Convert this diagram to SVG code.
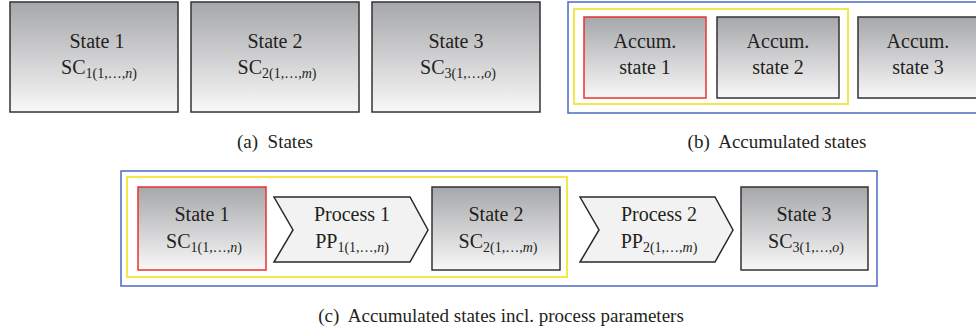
<svg xmlns="http://www.w3.org/2000/svg" width="976" height="329" viewBox="0 0 976 329">
<defs>
<linearGradient id="grad" x1="0" y1="0" x2="0" y2="1">
<stop offset="0" stop-color="#a6a7aa"/>
<stop offset="1" stop-color="#f8f8f8"/>
</linearGradient>
</defs>
<style>
.box{fill:url(#grad);stroke:#333;stroke-width:1.5}
.red{fill:url(#grad);stroke:#e8322f;stroke-width:1.5}
.proc{fill:#f1f2f1;stroke:#2a2a2a;stroke-width:1.5}
.blue{fill:none;stroke:#4b6bc4;stroke-width:1.5}
.yellow{fill:none;stroke:#f3e74a;stroke-width:2}
text{font-family:"Liberation Serif","Times New Roman",serif;font-size:20px;fill:#231f20;text-anchor:middle}
.sub{font-size:14px}
.cap{font-size:19px}
</style>
<rect x="0" y="0" width="976" height="329" fill="#fff"/>
<g id="frames">
<rect class="blue" x="568" y="2" width="420" height="111"/>
<rect class="yellow" x="574" y="9" width="274" height="95"/>
<rect class="blue" x="121" y="171" width="756" height="115"/>
<rect class="yellow" x="127" y="177" width="440" height="100"/>
</g>
<g id="connectors"/>
<g id="a-state1">
<rect class="box" x="10" y="2" width="168" height="110"/>
<text x="97" y="48">State 1</text>
<text x="99" y="74">SC<tspan class="sub" dy="4">1(1,…,<tspan font-style="italic">n</tspan>)</tspan></text>
</g>
<g id="a-state2">
<rect class="box" x="191" y="2" width="168" height="110"/>
<text x="275" y="48">State 2</text>
<text x="277" y="74">SC<tspan class="sub" dy="4">2(1,…,<tspan font-style="italic">m</tspan>)</tspan></text>
</g>
<g id="a-state3">
<rect class="box" x="372" y="2" width="168" height="110"/>
<text x="456" y="48">State 3</text>
<text x="458" y="74">SC<tspan class="sub" dy="4">3(1,…,<tspan font-style="italic">o</tspan>)</tspan></text>
</g>
<g id="b-accum1">
<rect class="red" x="584" y="17" width="122" height="81"/>
<text x="645" y="48">Accum.</text>
<text x="645" y="74">state 1</text>
</g>
<g id="b-accum2">
<rect class="box" x="717" y="17" width="122" height="81"/>
<text x="778" y="48">Accum.</text>
<text x="778" y="74">state 2</text>
</g>
<g id="b-accum3">
<rect class="box" x="858" y="17" width="130" height="81"/>
<text x="918" y="48">Accum.</text>
<text x="918" y="74">state 3</text>
</g>
<g id="c-state1">
<rect class="red" x="138" y="187" width="128" height="83"/>
<text x="202" y="221">State 1</text>
<text x="204" y="248">SC<tspan class="sub" dy="4">1(1,…,<tspan font-style="italic">n</tspan>)</tspan></text>
</g>
<g id="c-process1">
<polygon class="proc" points="274,197 410,197 428,230 410,262 274,262 293,230"/>
<text x="352" y="221">Process 1</text>
<text x="352" y="248">PP<tspan class="sub" dy="4">1(1,…,<tspan font-style="italic">n</tspan>)</tspan></text>
</g>
<g id="c-state2">
<rect class="box" x="432" y="187" width="128" height="83"/>
<text x="496" y="221">State 2</text>
<text x="498" y="248">SC<tspan class="sub" dy="4">2(1,…,<tspan font-style="italic">m</tspan>)</tspan></text>
</g>
<g id="c-process2">
<polygon class="proc" points="580,197 715,197 733,230 715,262 580,262 599,230"/>
<text x="659" y="221">Process 2</text>
<text x="659" y="248">PP<tspan class="sub" dy="4">2(1,…,<tspan font-style="italic">m</tspan>)</tspan></text>
</g>
<g id="c-state3">
<rect class="box" x="741" y="187" width="127" height="83"/>
<text x="804" y="221">State 3</text>
<text x="806" y="248">SC<tspan class="sub" dy="4">3(1,…,<tspan font-style="italic">o</tspan>)</tspan></text>
</g>
<g id="captions">
<text class="cap" x="275" y="148" xml:space="preserve">(a)  States</text>
<text class="cap" x="777" y="148" xml:space="preserve">(b)  Accumulated states</text>
<text class="cap" x="501" y="322" xml:space="preserve">(c)  Accumulated states incl. process parameters</text>
</g>
</svg>
